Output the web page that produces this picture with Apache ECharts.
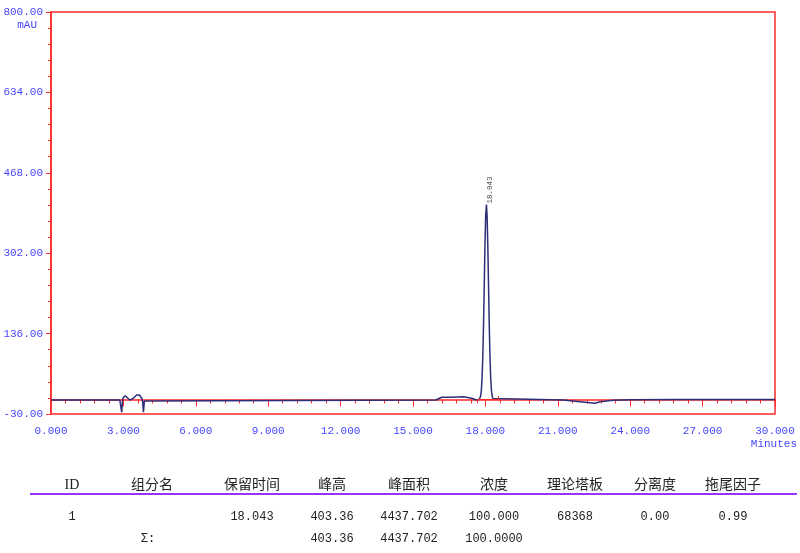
<!DOCTYPE html>
<html>
<head>
<meta charset="utf-8">
<script src="https://cdn.jsdelivr.net/npm/echarts@6/dist/echarts.min.js"></script>
<style>
html,body{margin:0;padding:0;background:#fff;}
#chart{width:800px;height:553px;}
</style>
</head>
<body>
<div id="chart"></div>
<script>
// ---- chromatogram trace (minutes, mAU) ----
var traceTimes = [
  0.00, 2.85, 2.90, 2.93, 2.97, 3.00, 3.07, 3.14, 3.27, 3.41, 3.55, 3.66, 3.76, 3.80, 3.83, 3.87, 3.90,
  15.95, 16.19, 16.60, 17.09, 17.43, 17.64,
  17.71, 17.74, 17.77, 17.80, 17.83, 17.86, 17.89, 17.92, 17.95, 17.98, 18.01, 18.043,
  18.07, 18.10, 18.13, 18.16, 18.19, 18.22, 18.25, 18.28, 18.31, 18.34, 18.37,
  21.23, 21.92, 22.54, 22.75, 23.30, 24.00, 25.95, 25.97, 26.00, 30.00
];
var traceValues = [
  -1, -1, -3, -26.5, 2, 5.7, 7.8, 4.5, -1, 2.4, 9.2, 9.2, 2.4, -4, -26.5, -3, -1,
  -1, 4.5, 4.8, 5.7, 2.4, -1,
  -1, -0.2, 1.6, 6.5, 18, 42, 84, 148, 229, 313, 378, 402.4,
  380, 318, 235, 152, 87, 44, 19, 7, 1.8, -0.2, -1,
  -1, -4.6, -7.9, -4.6, -1.5, -0.5, -0.3, 1.5, -0.3, -0.3
];

// ---- detected peak ----
var peakTimes = [18.043];
var peakHeights = [403.36];
var peakBaseline = [-1];
var peakStart = [17.67];
var peakEnd = [18.54];

// ---- axis ----
var xMin = 0, xMax = 30, xStep = 3;
var yMin = -30, yMax = 800, yStep = 166;

// ---- result table ----
var tableHeaders = ['ID', '组分名', '保留时间', '峰高', '峰面积', '浓度', '理论塔板', '分离度', '拖尾因子'];
var tableRow1 = ['1', '', '18.043', '403.36', '4437.702', '100.000', '68368', '0.00', '0.99'];
var tableSum = ['', 'Σ:', '', '403.36', '4437.702', '100.0000', '', '', ''];

var RED = '#ff2a2a';
var BLUE = '#4646ff';
var TRACE = '#2e2e78';
var MONO = "'Liberation Mono', monospace";

var traceData = traceTimes.map(function (t, i) { return [t, traceValues[i]]; });
var peakPoints = peakTimes.map(function (t, i) { return [t, peakBaseline[i] + peakHeights[i]]; });

var series = [
  {
    type: 'line', data: traceData, symbol: 'none', silent: true,
    lineStyle: { color: TRACE, width: 1.5 }, z: 3
  },
  {
    type: 'scatter', data: peakPoints, symbolSize: 0, silent: true, z: 5,
    label: {
      show: true, position: [3.5, -1], rotate: 90, align: 'left', verticalAlign: 'middle',
      formatter: function (p) { return p.value[0].toFixed(3); },
      fontFamily: MONO, fontSize: 7.5, color: '#111'
    }
  }
];
peakTimes.forEach(function (t, i) {
  var b = peakBaseline[i] + 1;
  series.push({
    type: 'line', symbol: 'none', silent: true, z: 4,
    lineStyle: { color: RED, width: 1 },
    data: [[peakStart[i], b], [peakEnd[i], b]]
  });
  series.push({
    type: 'line', symbol: 'none', silent: true, z: 4,
    lineStyle: { color: RED, width: 1 },
    data: [[peakStart[i], b], [peakStart[i], b - 8]]
  });
  series.push({
    type: 'line', symbol: 'none', silent: true, z: 4,
    lineStyle: { color: RED, width: 1 },
    data: [[peakEnd[i], b - 2], [peakEnd[i], b + 7]]
  });
});

// table graphics
var colX = [72, 152, 252, 332, 409, 494, 575, 655, 733];
var graphics = [
  { type: 'text', x: 37, y: 25, style: { text: 'mAU', fill: BLUE, font: '11px ' + MONO, textAlign: 'right', textVerticalAlign: 'middle' } },
  { type: 'text', x: 797, y: 444, style: { text: 'Minutes', fill: BLUE, font: '11px ' + MONO, textAlign: 'right', textVerticalAlign: 'middle' } },
  { type: 'line', shape: { x1: 30, y1: 494, x2: 797, y2: 494 }, style: { stroke: '#9933ff', lineWidth: 2 } }
];
tableHeaders.forEach(function (h, i) {
  graphics.push({ type: 'text', x: colX[i], y: 485, style: { text: h, fill: '#222', font: "14px 'Liberation Serif', 'Noto Sans CJK SC', serif", textAlign: 'center', textVerticalAlign: 'middle' } });
});
[[tableRow1, 517], [tableSum, 539]].forEach(function (r) {
  r[0].forEach(function (v, i) {
    if (!v) return;
    graphics.push({ type: 'text', x: colX[i] - (v === 'Σ:' ? 4 : 0), y: r[1], style: { text: v, fill: '#222', font: '12px ' + MONO, textAlign: 'center', textVerticalAlign: 'middle' } });
  });
});

var chart = echarts.init(document.getElementById('chart'));
chart.setOption({
  animation: false,
  backgroundColor: '#fff',
  grid: { left: 51, right: 25, top: 12, bottom: 139, show: true, borderColor: RED, borderWidth: 1.5, backgroundColor: 'transparent' },
  xAxis: {
    type: 'value', min: xMin, max: xMax, interval: xStep,
    axisLine: { lineStyle: { color: RED, width: 1.5 } },
    axisTick: { show: true, inside: false, length: 7, lineStyle: { color: RED } },
    minorTick: { show: true, splitNumber: 5, length: 4, lineStyle: { color: RED } },
    splitLine: { show: false },
    axisLabel: { color: BLUE, fontFamily: MONO, fontSize: 11, margin: 12, formatter: function (v) { return v.toFixed(3); } }
  },
  yAxis: {
    type: 'value', min: yMin, max: yMax, interval: yStep,
    axisLine: { show: true, lineStyle: { color: RED, width: 1.5 } },
    axisTick: { show: true, inside: false, length: 5, lineStyle: { color: RED } },
    minorTick: { show: true, splitNumber: 5, length: 3, lineStyle: { color: RED } },
    splitLine: { show: false },
    axisLabel: { color: BLUE, fontFamily: MONO, fontSize: 11, margin: 8, formatter: function (v) { return v.toFixed(2); } }
  },
  series: series,
  graphic: graphics
});
</script>
</body>
</html>
